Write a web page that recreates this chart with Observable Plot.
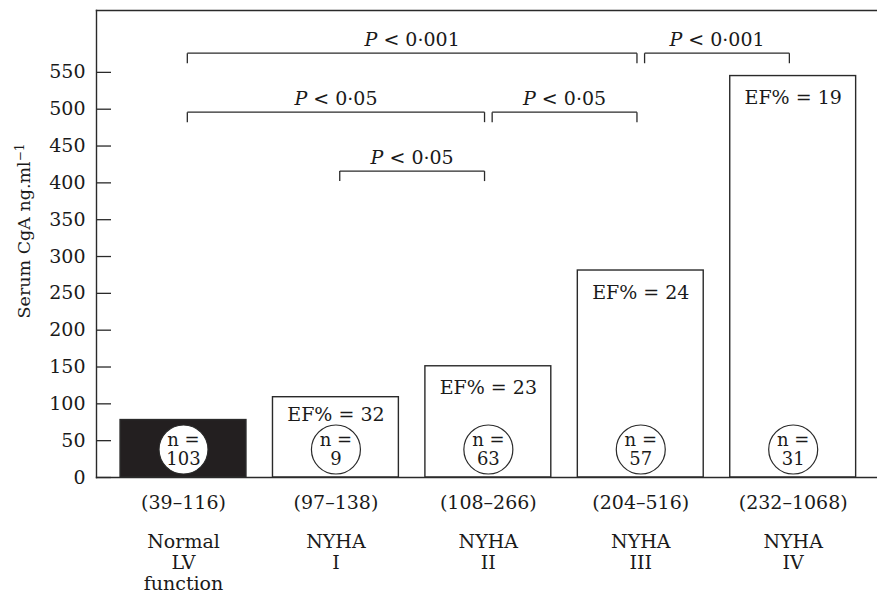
<!DOCTYPE html>
<html><head><meta charset="utf-8">
<script src="https://cdn.jsdelivr.net/npm/d3@7"></script>
<script src="https://cdn.jsdelivr.net/npm/@observablehq/plot@0.6"></script>
<style>body{margin:0;background:#fff}</style>
</head><body><div id="chart"></div>
<script>
// ---- data ----
const groups = ["Normal\nLV\nfunction", "NYHA\nI", "NYHA\nII", "NYHA\nIII", "NYHA\nIV"];
const values = [78, 109, 151, 281, 545];
const ranges = ["(39–116)", "(97–138)", "(108–266)", "(204–516)", "(232–1068)"];
const nCounts = [103, 9, 63, 57, 31];
const efPercent = [null, 32, 23, 24, 19];
const yTicks = [0, 50, 100, 150, 200, 250, 300, 350, 400, 450, 500, 550];
const yLabel = "Serum CgA ng.ml⁻¹";
const brackets = [
  {from: 0, to: 3, label: "P < 0·001", level: 0},
  {from: 3, to: 4, label: "P < 0·001", level: 0},
  {from: 0, to: 2, label: "P < 0·05", level: 1},
  {from: 2, to: 3, label: "P < 0·05", level: 1},
  {from: 1, to: 2, label: "P < 0·05", level: 2}
];

// ---- layout helpers ----
const ink = "#1a1a1a";
const lineInk = "#2a2a2a";
const barHalf = 0.413;
const gap = 0.025;
const yLine = level => 576 - 80 * level;
const tickLen = 13.6;
const circleY = 38;

const rows = groups.map((g, i) => ({i, group: g, value: values[i], range: ranges[i], n: nCounts[i], ef: efPercent[i]}));

const chart = Plot.plot({
  width: 877,
  height: 596,
  marginLeft: 96,
  marginRight: 0,
  marginTop: 10,
  marginBottom: 119,
  style: {fontFamily: "DejaVu Serif", fontSize: "19px", color: ink, background: "white"},
  x: {type: "linear", domain: [-0.5, 4.5], range: [106.8, 868.9], axis: null},
  y: {domain: [0, 634]},
  marks: [
    Plot.rectY(rows, {x1: d => d.i - barHalf, x2: d => d.i + barHalf, y1: 0, y2: "value",
      fill: d => d.i === 0 ? "#231f20" : "white", stroke: lineInk, strokeWidth: 1.4}),
    Plot.dot(rows, {x: "i", y: circleY, r: 24.5, fill: "white", stroke: lineInk, strokeWidth: 1.2}),
    Plot.text(rows, {x: "i", y: circleY, text: d => `n =\n${d.n}`, fontSize: 18, lineHeight: 1.06, fill: ink}),
    Plot.text(rows.filter(d => d.i === 1), {x: "i", y: "value", dy: 18, text: d => `EF% = ${d.ef}`, fill: ink}),
    Plot.text(rows.filter(d => d.i > 1), {x: "i", y: "value", dy: 22, text: d => `EF% = ${d.ef}`, fill: ink}),
    Plot.text(rows, {x: "i", y: 0, dy: 25, text: "range", fill: ink}),
    Plot.text(rows, {x: "i", y: 0, dy: 56, text: "group", lineAnchor: "top", lineHeight: 1.1, fill: ink}),
    // significance brackets
    Plot.link(brackets, {x1: d => d.from + gap, x2: d => d.to - gap, y1: d => yLine(d.level), y2: d => yLine(d.level), stroke: lineInk, strokeWidth: 1.3}),
    Plot.link(brackets, {x1: d => d.from + gap, x2: d => d.from + gap, y1: d => yLine(d.level), y2: d => yLine(d.level) - tickLen, stroke: lineInk, strokeWidth: 1.3}),
    Plot.link(brackets, {x1: d => d.to - gap, x2: d => d.to - gap, y1: d => yLine(d.level), y2: d => yLine(d.level) - tickLen, stroke: lineInk, strokeWidth: 1.3}),
    Plot.text(brackets, {x: d => (d.from + d.to) / 2, y: d => yLine(d.level), dy: -13, text: "label", fill: ink}),
    // axes and frame
    Plot.axisY({ticks: yTicks, tickSize: -15, tickPadding: 26, label: null, stroke: lineInk, strokeWidth: 1.3, fill: ink}),
    Plot.text([yLabel], {frameAnchor: "left", textAnchor: "middle", dx: -72, dy: -13, rotate: -90, text: d => d, fontSize: 17.5, fill: ink}),
    Plot.frame({anchor: "left", stroke: lineInk, strokeWidth: 1.4}),
    Plot.frame({anchor: "top", stroke: lineInk, strokeWidth: 1.4}),
    Plot.frame({anchor: "bottom", stroke: lineInk, strokeWidth: 1.4})
  ]
});

// italic P and superscript unit
d3.select(chart).selectAll("text").each(function() {
  const t = this.textContent;
  if (t.startsWith("P <")) {
    const rest = t.slice(1);
    this.textContent = "";
    d3.select(this).append("tspan").attr("font-style", "italic").text("P");
    d3.select(this).append("tspan").text(rest);
  } else if (t === yLabel) {
    this.textContent = "";
    d3.select(this).append("tspan").text("Serum CgA ng.ml");
    d3.select(this).append("tspan").attr("dy", "-0.5em").attr("font-size", "12px").text("−1");
  }
});

document.getElementById("chart").append(chart);
</script>
</body></html>
